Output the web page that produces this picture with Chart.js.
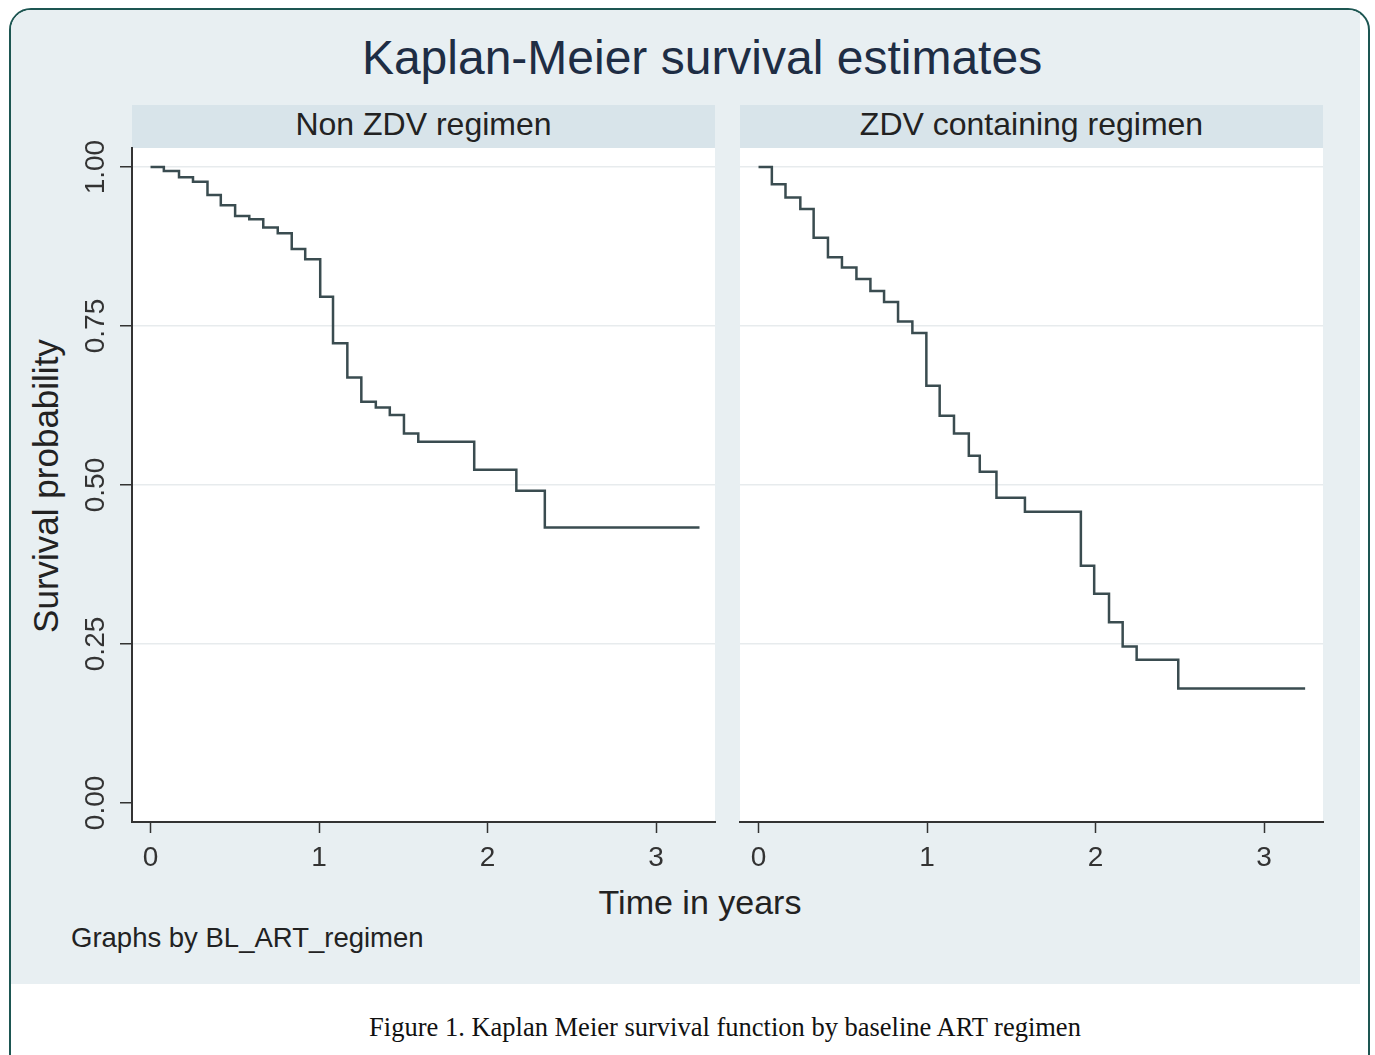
<!DOCTYPE html>
<html>
<head>
<meta charset="utf-8">
<script src="https://cdn.jsdelivr.net/npm/chart.js@4.4.1/dist/chart.umd.min.js"></script>
<style>
  body { margin: 0; background: #fff; width: 1375px; height: 1055px; overflow: hidden; position: relative; font-family: "Liberation Sans", Arial, sans-serif; }
  #frame { position: absolute; left: 9px; top: 8px; width: 1357px; height: 1070px; border: 2px solid #1d5652; border-radius: 22px; overflow: hidden; }
  #bg { position: absolute; left: 0; top: 0; width: 1349px; height: 974px; background: #e8eff2; }
  .strip { position: absolute; top: 105px; height: 43px; width: 583px; background: #d8e4ea; }
  .txt { position: absolute; white-space: nowrap; color: #222; }
  canvas { position: absolute; }
</style>
</head>
<body>
<div id="frame"><div id="bg"></div></div>
<div class="strip" style="left:132px"></div>
<div class="strip" style="left:740px"></div>

<div class="txt" style="left:0;width:1404px;top:30px;text-align:center;font-size:48px;color:#1e2d44">Kaplan-Meier survival estimates</div>
<div class="txt" style="left:132px;width:583px;top:106px;text-align:center;font-size:32px">Non ZDV regimen</div>
<div class="txt" style="left:740px;width:583px;top:106px;text-align:center;font-size:32px">ZDV containing regimen</div>
<div class="txt" style="left:-154px;width:400px;top:466px;text-align:center;font-size:35px;transform:rotate(-90deg)">Survival probability</div>
<div class="txt" style="left:500px;width:400px;top:883px;text-align:center;font-size:34px">Time in years</div>
<div class="txt" style="left:71px;top:922px;font-size:27.5px">Graphs by BL_ART_regimen</div>
<div class="txt" style="left:0;width:1450px;top:1012px;text-align:center;font-size:26.5px;font-family:'Liberation Serif',serif;color:#111">Figure 1. Kaplan Meier survival function by baseline ART regimen</div>

<canvas id="leftChart" width="690" height="762" style="left:40px;top:120px"></canvas>
<canvas id="rightChart" width="620" height="762" style="left:720px;top:120px"></canvas>

<script>
const xTicks = [0, 1, 2, 3];
const yTicks = [0, 0.25, 0.5, 0.75, 1];

// Non ZDV regimen
const nonZdvTimes = [0, 0.079, 0.169, 0.252, 0.338, 0.417, 0.502, 0.586, 0.669, 0.755, 0.838, 0.918, 1.007, 1.083, 1.168, 1.251, 1.337, 1.420, 1.504, 1.589, 1.921, 2.171, 2.340, 3.258];
const nonZdvSurv = [1.000, 0.994, 0.984, 0.977, 0.956, 0.940, 0.923, 0.918, 0.905, 0.896, 0.871, 0.855, 0.796, 0.723, 0.669, 0.631, 0.622, 0.610, 0.581, 0.568, 0.524, 0.491, 0.433, 0.433];

// ZDV containing regimen
const zdvTimes = [0, 0.079, 0.160, 0.248, 0.327, 0.412, 0.495, 0.581, 0.664, 0.745, 0.828, 0.913, 0.996, 1.075, 1.160, 1.248, 1.313, 1.412, 1.581, 1.913, 1.992, 2.080, 2.161, 2.244, 2.491, 3.244];
const zdvSurv = [1.000, 0.973, 0.952, 0.934, 0.889, 0.858, 0.842, 0.824, 0.805, 0.788, 0.757, 0.739, 0.656, 0.609, 0.581, 0.546, 0.521, 0.480, 0.458, 0.373, 0.329, 0.284, 0.246, 0.225, 0.180, 0.180];

const dark = "#333";

// white plot region
const plotBg = {
  id: "plotBg",
  beforeDraw(chart) {
    const a = chart.chartArea;
    chart.ctx.save();
    chart.ctx.fillStyle = "#fff";
    chart.ctx.fillRect(a.left, a.top, a.right - a.left, a.bottom - a.top);
    chart.ctx.restore();
  }
};

function makePanel(id, times, surv, showY) {
  const ctx = document.getElementById(id).getContext("2d");
  return new Chart(ctx, {
    type: "line",
    data: {
      datasets: [{
        data: times.map((t, i) => ({ x: t, y: surv[i] })),
        stepped: true,
        borderColor: "#3a4c50",
        borderWidth: 2.5,
        pointRadius: 0,
        fill: false
      }]
    },
    options: {
      responsive: false,
      devicePixelRatio: 1,
      animation: false,
      layout: { padding: { top: 28, right: showY ? 15 : 17, left: 0, bottom: 0 } },
      plugins: { legend: { display: false }, tooltip: { enabled: false } },
      scales: {
        x: {
          type: "linear",
          min: -0.11,
          max: 3.35,
          afterBuildTicks: s => { s.ticks = xTicks.map(v => ({ value: v })); },
          afterFit: s => { s.height = 60; },
          border: { display: true, color: dark, width: 2 },
          grid: { drawOnChartArea: false, drawTicks: true, tickLength: 11, tickColor: dark, tickWidth: 1.5 },
          ticks: { color: dark, padding: 8, font: { size: 28, family: "Liberation Sans" }, callback: v => String(v), maxRotation: 0 }
        },
        y: {
          type: "linear",
          min: -0.03,
          max: 1.03,
          afterBuildTicks: s => { s.ticks = yTicks.map(v => ({ value: v })); },
          afterFit: s => { s.width = showY ? 92 : 20; },
          border: { display: showY, color: dark, width: 2 },
          grid: {
            drawOnChartArea: true,
            drawTicks: showY,
            tickLength: 12,
            tickColor: dark,
            tickWidth: 1.5,
            lineWidth: 1.5,
            color: c => c.tick && c.tick.value === 0 ? "rgba(0,0,0,0)" : "#e7ebed"
          },
          ticks: {
            display: showY,
            color: dark,
            padding: -4,
            minRotation: 90,
            maxRotation: 90,
            crossAlign: "center",
            font: { size: 28, family: "Liberation Sans" },
            callback: v => v.toFixed(2)
          }
        }
      }
    },
    plugins: [plotBg]
  });
}

makePanel("leftChart", nonZdvTimes, nonZdvSurv, true);
makePanel("rightChart", zdvTimes, zdvSurv, false);
</script>
</body>
</html>
